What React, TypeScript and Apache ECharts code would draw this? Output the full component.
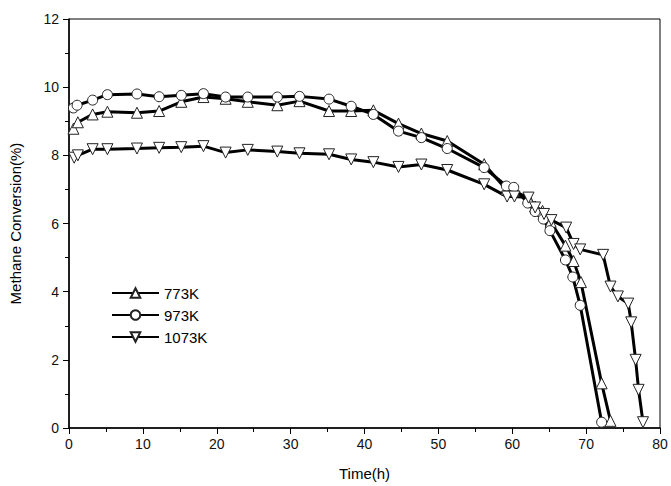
import React, { useEffect, useRef } from "react";
import * as echarts from "echarts";

const seriesNames = ["773K", "973K", "1073K"];

const data773: [number, number][] = [
  [0.6, 8.78], [1.2, 8.97], [3.2, 9.2], [5.2, 9.28], [9.2, 9.25], [12.2, 9.3], [15.2, 9.57], [18.2, 9.71],
  [21.2, 9.66], [24.2, 9.57], [28.2, 9.47], [31.2, 9.59], [35.2, 9.3], [38.2, 9.3], [41.2, 9.32], [44.6, 8.93],
  [47.7, 8.64], [51.2, 8.42], [56.2, 7.74], [59.2, 7.0], [60.2, 6.95], [62.2, 6.75], [63.1, 6.5], [64.1, 6.37],
  [65.2, 6.05], [67.2, 5.35], [68.3, 4.9], [69.3, 4.28], [72.1, 1.31], [73.3, 0.21],
];

const data973: [number, number][] = [
  [0.6, 9.39], [1.1, 9.47], [3.2, 9.62], [5.2, 9.78], [9.2, 9.8], [12.2, 9.72], [15.2, 9.76], [18.2, 9.81],
  [21.2, 9.71], [24.2, 9.71], [28.2, 9.71], [31.2, 9.73], [35.2, 9.65], [38.2, 9.44], [41.2, 9.2], [44.6, 8.71],
  [47.7, 8.52], [51.2, 8.2], [56.2, 7.64], [59.2, 7.1], [60.2, 7.06], [62.1, 6.6], [63.1, 6.35], [64.2, 6.13],
  [65.1, 5.79], [67.2, 4.93], [68.2, 4.43], [69.2, 3.6], [72.1, 0.17],
];

const data1073: [number, number][] = [
  [0.7, 7.93], [1.2, 8.0], [3.2, 8.18], [5.2, 8.18], [9.2, 8.2], [12.2, 8.22], [15.2, 8.24], [18.2, 8.27],
  [21.2, 8.08], [24.2, 8.16], [28.2, 8.11], [31.2, 8.06], [35.2, 8.03], [38.2, 7.88], [41.2, 7.8], [44.6, 7.66],
  [47.7, 7.73], [51.2, 7.57], [56.2, 7.15], [59.3, 6.79], [60.3, 6.79], [62.2, 6.76], [63.1, 6.47], [64.3, 6.28],
  [65.3, 6.1], [67.3, 5.88], [68.3, 5.4], [69.2, 5.24], [72.3, 5.08], [73.3, 4.15], [74.3, 3.86], [75.7, 3.65],
  [76.1, 3.1], [76.7, 2.0], [77.1, 1.12], [77.7, 0.17],
];

const FONT = "Liberation Sans, Arial, sans-serif";

export default function App() {
  const ref = useRef<HTMLDivElement>(null);
  useEffect(() => {
    if (!ref.current) return;
    const chart = echarts.init(ref.current, null, { renderer: "svg" });
    const mkSeries = (name: string, data: [number, number][], symbol: string, rotate: number) => ({
      name,
      type: "line",
      data,
      symbol,
      symbolSize: symbol === "circle" ? 10 : 11,
      symbolRotate: rotate,
      showAllSymbol: true,
      lineStyle: { color: "#000", width: 3 },
      itemStyle: { color: "#fff", borderColor: "#222", borderWidth: 1 },
      emphasis: { disabled: true },
    });
    chart.setOption({
      animation: false,
      backgroundColor: "#fff",
      textStyle: { fontFamily: FONT },
      grid: {
        left: 68, right: 11, top: 19, bottom: 56,
        show: true, borderColor: "#000", borderWidth: 1,
      },
      legend: {
        orient: "vertical",
        left: 106,
        top: 280,
        itemWidth: 47,
        itemHeight: 12,
        itemGap: 6,
        data: seriesNames,
        textStyle: { fontSize: 15, color: "#000", fontFamily: FONT, lineHeight: 16 },
      },
      xAxis: {
        type: "value",
        min: 0, max: 80, interval: 10,
        name: "Time(h)",
        nameLocation: "middle",
        nameGap: 38,
        nameTextStyle: { fontSize: 15, color: "#000", fontFamily: FONT },
        axisLine: { lineStyle: { color: "#000", width: 1.5 } },
        axisTick: { show: true, length: 6, lineStyle: { color: "#000" } },
        minorTick: { show: true, splitNumber: 2, length: 4, lineStyle: { color: "#000" } },
        axisLabel: { fontSize: 14, color: "#111", margin: 9, fontFamily: FONT },
        splitLine: { show: false },
      },
      yAxis: {
        type: "value",
        min: 0, max: 12, interval: 2,
        name: "Methane Conversion(%)",
        nameLocation: "middle",
        nameGap: 46,
        nameTextStyle: { fontSize: 15, color: "#000", fontFamily: FONT },
        axisLine: { show: true, lineStyle: { color: "#000", width: 1.5 } },
        axisTick: { show: true, length: 6, lineStyle: { color: "#000" } },
        minorTick: { show: true, splitNumber: 2, length: 4, lineStyle: { color: "#000" } },
        axisLabel: { fontSize: 14, color: "#111", margin: 10, fontFamily: FONT },
        splitLine: { show: false },
      },
      series: [
        mkSeries("773K", data773, "triangle", 0),
        mkSeries("973K", data973, "circle", 0),
        mkSeries("1073K", data1073, "triangle", 180),
      ],
    });
    return () => chart.dispose();
  }, []);
  return <div ref={ref} style={{ width: 671, height: 486, position: "absolute", left: 0, top: 0 }} />;
}
